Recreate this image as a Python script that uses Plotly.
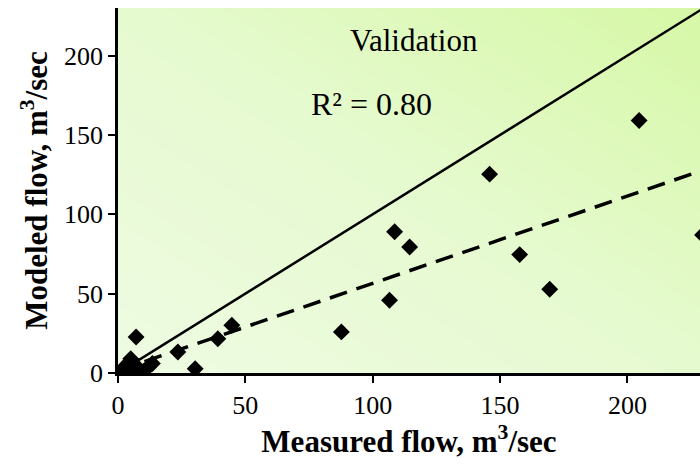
import numpy as np
import plotly.graph_objects as go

measured = [204.6, 145.9, 108.6, 114.5, 157.7, 169.5, 106.6, 87.7, 44.7, 39.2, 23.5, 30.3, 7.1,
            229.5, 2.0, 3.0, 4.0, 5.0, 5.5, 6.5, 8.0, 10.0, 12.0, 13.5, 3.5, 1.5, 7.0, 4.5]
modeled = [159.1, 125.3, 89.0, 79.4, 74.6, 52.8, 45.8, 25.9, 30.1, 21.6, 13.2, 2.7, 22.7,
           87.0, 3.0, 1.0, 6.0, 9.0, 2.0, 4.0, 3.0, 1.0, 4.0, 6.0, 0.0, 1.5, 0.5, 4.5]
one_to_one_x = [0, 240]
one_to_one_y = [0, 240]
trend_x = [0, 230]
trend_y = [1.5, 128.0]
x_ticks = [0, 50, 100, 150, 200]
y_ticks = [0, 50, 100, 150, 200]

serif = "Liberation Serif"

fig = go.Figure()

# background gradient (bottom-left pale -> top-right more saturated)
gx = np.linspace(0, 228.5, 30)
gy = np.linspace(0, 230, 30)
GX, GY = np.meshgrid(gx, gy)
Z = GX / 228.5 + GY / 230
fig.add_trace(go.Heatmap(
    x=gx, y=gy, z=Z, zsmooth="best", showscale=False, hoverinfo="skip",
    colorscale=[[0, "#eefbe2"], [0.5, "#e6fad0"], [1, "#d6f8a6"]],
))

fig.add_trace(go.Scatter(x=one_to_one_x, y=one_to_one_y, mode="lines",
                         line=dict(color="black", width=2.5), showlegend=False))
fig.add_trace(go.Scatter(x=trend_x, y=trend_y, mode="lines",
                         line=dict(color="black", width=3.5, dash="18px,10px"), showlegend=False))
fig.add_trace(go.Scatter(x=measured, y=modeled, mode="markers",
                         marker=dict(symbol="diamond", size=13, color="black"),
                         showlegend=False, cliponaxis=True))

fig.add_annotation(x=(414 - 118.5) / 2.546, y=(373 - 41) / 1.586, xref="x", yref="y",
                   text="Validation", showarrow=False,
                   font=dict(family=serif, size=31, color="black"))
fig.add_annotation(x=(372 - 118.5) / 2.546, y=(373 - 104) / 1.586, xref="x", yref="y",
                   text="R² = 0.80", showarrow=False,
                   font=dict(family=serif, size=32, color="black"))

fig.update_layout(
    width=700, height=464,
    margin=dict(l=118, r=0, t=8, b=91),
    paper_bgcolor="white", plot_bgcolor="#e8fad2",
    font=dict(family=serif, color="black"),
    showlegend=False,
)
fig.update_xaxes(
    range=[0, 228.5], tickvals=x_ticks, ticks="outside", ticklen=7, tickwidth=1.5,
    tickcolor="black", showline=True, linecolor="black", linewidth=2.5,
    showgrid=False, zeroline=False, tickfont=dict(family=serif, size=26),
    title=dict(text="<b>Measured flow, m<sup>3</sup>/sec</b>",
               font=dict(family=serif, size=31), standoff=12),
)
fig.update_yaxes(
    range=[0, 230], tickvals=y_ticks, ticks="outside", ticklen=7, tickwidth=1.5,
    tickcolor="black", showline=True, linecolor="black", linewidth=2.5,
    showgrid=False, zeroline=False, tickfont=dict(family=serif, size=26),
    ticksuffix="\u00a0",
    title=dict(text="<b>Modeled flow, m<sup>3</sup>/sec</b>",
               font=dict(family=serif, size=31), standoff=8),
)

fig.write_html("out.html", config={"displayModeBar": False},
               post_script="document.body.style.margin='0';document.body.style.overflow='hidden';")
